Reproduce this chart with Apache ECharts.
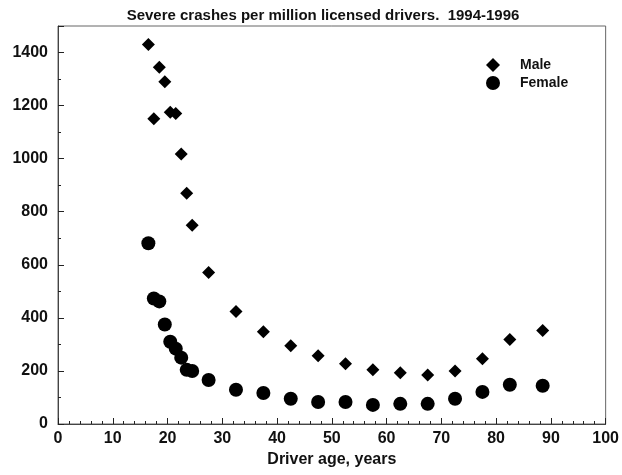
<!DOCTYPE html>
<html>
<head>
<meta charset="utf-8">
<script src="https://cdn.jsdelivr.net/npm/echarts@6/dist/echarts.min.js"></script>
<style>
	html, body { margin: 0; padding: 0; background: #fff; }
	#chart { width: 622px; height: 475px; }
</style>
</head>
<body>
<div id="chart"></div>
<script>
// driver age (midpoint of age group)
var ages = [16.5, 17.5, 18.5, 19.5, 20.5, 21.5, 22.5, 23.5, 24.5, 27.5, 32.5, 37.5, 42.5, 47.5, 52.5, 57.5, 62.5, 67.5, 72.5, 77.5, 82.5, 88.5];
// severe crashes per million licensed drivers
var male = [1430, 1150, 1345, 1290, 1175, 1170, 1018, 870, 749, 571, 424, 348, 295, 257, 227, 204, 193, 185, 200, 246, 318, 352];
var female = [681, 473, 462, 375, 310, 284, 250, 204, 200, 166, 129, 117, 95, 83, 83, 72, 76, 76, 95, 121, 148, 144];

function pairs(xs, ys) {
	return xs.map(function(x, i) { return [x, ys[i]]; });
}

var font = 'Liberation Sans, Arial, sans-serif';
var myChart = echarts.init(document.getElementById('chart'));

var option = {
	animation: false,
	backgroundColor: '#fff',
	title: {
		text: 'Severe crashes per million licensed drivers.  1994-1996',
		left: 318,
		textAlign: 'center',
		top: 3,
		textStyle: { fontFamily: font, fontSize: 15, fontWeight: 'bold', color: '#111' }
	},
	legend: {
		orient: 'vertical',
		left: 481,
		top: 53,
		itemWidth: 14,
		itemHeight: 14,
		itemGap: 4,
		textStyle: { fontFamily: font, fontSize: 14, fontWeight: 'bold', color: '#111', padding: [0, 0, 0, 15] },
		data: ['Male', 'Female']
	},
	grid: {
		left: 58,
		right: 14,
		top: 26,
		bottom: 51,
		show: true,
		borderColor: '#666',
		borderWidth: 1
	},
	xAxis: {
		type: 'value',
		min: 0,
		max: 100,
		interval: 10,
		name: 'Driver age, years',
		nameLocation: 'middle',
		nameGap: 28,
		nameTextStyle: { fontFamily: font, fontSize: 16, fontWeight: 'bold', color: '#111' },
		axisLine: { lineStyle: { color: '#444' } },
		axisTick: { inside: true, length: 6, lineStyle: { color: '#222' } },
		minorTick: { show: true, splitNumber: 5, length: 3, lineStyle: { color: '#222' } },
		axisLabel: { fontFamily: font, fontSize: 16, fontWeight: 'bold', color: '#111', margin: 7 },
		splitLine: { show: false }
	},
	yAxis: {
		type: 'value',
		min: 0,
		max: 1500,
		interval: 200,
		axisLine: { show: true, lineStyle: { color: '#444' } },
		axisTick: { show: true, inside: true, length: 6, lineStyle: { color: '#222' } },
		minorTick: { show: true, splitNumber: 2, length: 3, lineStyle: { color: '#222' } },
		axisLabel: {
			fontFamily: font, fontSize: 16, fontWeight: 'bold', color: '#111', margin: 10, showMaxLabel: false,
			formatter: function(v) { return String(v); }
		},
		splitLine: { show: false }
	},
	series: [{
		name: 'Male',
		type: 'scatter',
		symbol: 'diamond',
		symbolSize: 13,
		itemStyle: { color: '#000', opacity: 1 },
		data: pairs(ages, male)
	}, {
		name: 'Female',
		type: 'scatter',
		symbol: 'circle',
		symbolSize: 14,
		itemStyle: { color: '#000', opacity: 1 },
		data: pairs(ages, female)
	}]
};

myChart.setOption(option);
</script>
</body>
</html>
